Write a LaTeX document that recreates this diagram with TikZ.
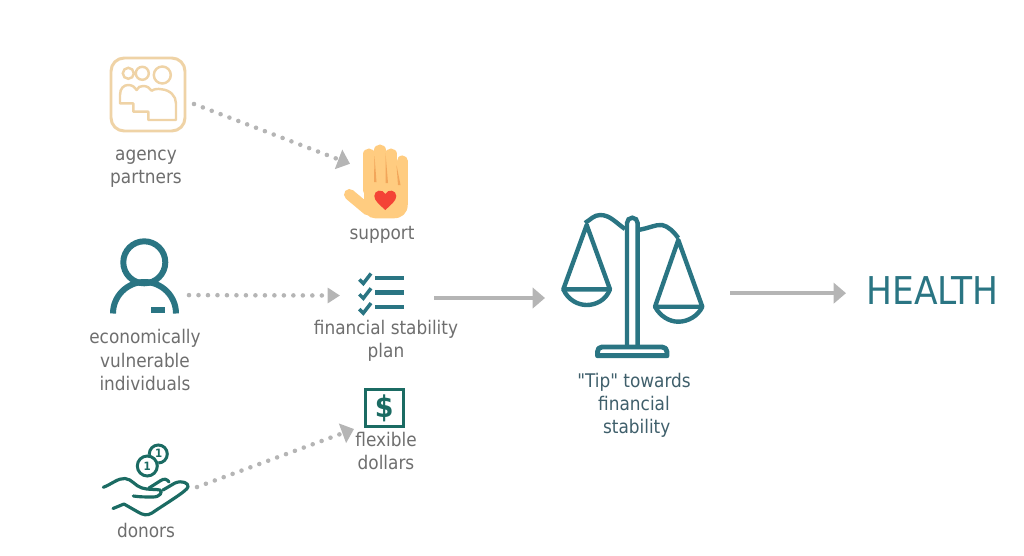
\documentclass[tikz,border=0pt]{standalone}
\usepackage{fontspec}
\setmainfont{DejaVu Sans Condensed}
\newfontfamily\tipfont{DejaVu Sans Condensed}
\usetikzlibrary{arrows.meta}
\definecolor{tealicon}{HTML}{2A7583}
\definecolor{greenicon}{HTML}{1B6B63}
\definecolor{sandicon}{HTML}{EFD3A6}
\definecolor{skinhand}{HTML}{FFCC80}
\definecolor{creasehand}{HTML}{F2A65A}
\definecolor{heartred}{HTML}{F44336}
\definecolor{arrowgray}{HTML}{B5B5B5}
\definecolor{labelgray}{HTML}{6E6E6E}
\definecolor{tipgray}{HTML}{3F5F6B}
\tikzset{
    iconbox/.style 2 args={inner sep=0pt, outer sep=0pt, minimum width=#1*0.02cm, minimum height=#2*0.02cm},
    lab/.style={text=labelgray, align=center, font=\fontsize{10.7pt}{13.2pt}\selectfont, inner sep=0pt},
    dotarrow/.style={arrowgray, line width=2.6pt, line cap=round, dash pattern=on 0pt off 5.4pt, -{Triangle[length=7pt, width=11.5pt]}},
    solidarrow/.style={arrowgray, line width=2.3pt, -{Triangle[length=7pt, width=11.5pt]}},
    coinnum/.style={text=greenicon, inner sep=0pt, font=\fontsize{6.5pt}{6.5pt}\bfseries\selectfont},
    finger/.style={skinhand, line width=6.3pt, line cap=round}
}
\begin{document}
\begin{tikzpicture}[x=0.02cm, y=-0.02cm]
    \useasboundingbox (0,0) rectangle (1024,555);
    % anchors of the icons
    \node[iconbox={94}{92}] (agency) at (147,94) {};
    \node[iconbox={52}{76}] (hand) at (376,182) {};
    \node[iconbox={90}{80}] (person) at (144,276) {};
    \node[iconbox={94}{44}] (plan) at (387,298) {};
    \node[iconbox={60}{41}] (dollar) at (384,408.5) {};
    \node[iconbox={100}{70}] (donor) at (147,480) {};
    \node[iconbox={185}{120}] (scale) at (637.5,298) {};
    % agency partners
    \draw[sandicon, line width=1.7pt, rounded corners=7.5pt] (111,58) rectangle (185,131);
    \draw[sandicon, line width=1.4pt] (128.3,73.3) circle (5.5) (142.3,73.3) circle (6.5) (162.3,75) circle (8.5);
    \draw[sandicon, line width=1.4pt, line join=round] (120,103.3) -- (120,95) .. controls (120,88) and (124,85) .. (128.3,85)
        .. controls (132,85) and (135,87) .. (136.7,90) .. controls (138,87) and (140,86) .. (143.3,86)
        .. controls (147,86) and (150,88) .. (151.7,90.7) .. controls (154,89) and (158,88.5) .. (161.7,89.3)
        .. controls (170,90) and (176,96) .. (176,103.3) -- (176,120) -- (148.3,120) -- (148.3,111.7) -- (133.3,111.7) -- (133.3,103.3) -- cycle;
    % support hand
    \draw[finger] (369,154) -- (369,190);
    \draw[finger] (380,150) -- (380,190);
    \draw[finger] (391,154) -- (391,190);
    \draw[finger] (402.2,161) -- (402.2,190);
    \fill[skinhand] (363.5,180) rectangle (407.7,205);
    \fill[skinhand] (363.5,205) -- (407.7,205) .. controls (407.7,213) and (402,218.3) .. (394,218.3) -- (375,218.3) .. controls (368,218.3) and (364,212) .. (363.5,205);
    \draw[finger] (349.5,194.5) -- (368,210);
    \fill[creasehand] (374.5,156) -- (376.5,182) -- (374,182) -- cycle;
    \fill[creasehand] (385.5,153) -- (388,183) -- (385.5,183) -- cycle;
    \fill[creasehand] (396.5,165) -- (400.5,185) -- (398,185) -- cycle;
    \fill[heartred] (385.3,210) .. controls (380,205) and (374.3,201) .. (374.3,196) .. controls (374.3,190) and (382.5,188.5) .. (385.3,194) .. controls (388,188.5) and (396.3,190) .. (396.3,196) .. controls (396.3,201) and (390.5,205) .. (385.3,210) -- cycle;
    % person
    \draw[tealicon, line width=3.4pt] (144.3,262.3) circle (21);
    \draw[tealicon, line width=3.4pt] (113,313.5) arc (180:360:31.5);
    \fill[tealicon] (151,306.7) rectangle (165,312.7);
    % plan list
    \foreach \y in {0,14.8,29.6} {
        \draw[tealicon, line width=2.3pt] (375,{277.7+\y}) -- (403.5,{277.7+\y});
        \draw[tealicon, line width=2pt] (359.3,{279.5+\y}) -- (363.3,{283.5+\y}) -- (371,{273.5+\y});
    }
    % dollar square
    \draw[greenicon, line width=1.8pt] (365.5,389.5) rectangle (403.5,426.5);
    \node[text=greenicon, inner sep=0pt, font=\fontsize{17pt}{17pt}\bfseries\selectfont] (dollarsign) at (384.3,408.3) {\$};
    % donor hand and coins
    \draw[greenicon, line width=1.7pt] (158.3,454) circle (9);
    \fill[white] (147.3,466) circle (11.5);
    \draw[greenicon, line width=1.7pt] (147.3,466) circle (10);
    \node[coinnum] (coinb) at (147.3,466) {1};
    \node[coinnum] (coinc) at (158.8,453.5) {1};
    \draw[greenicon, line width=1.8pt, line cap=round, line join=round] (103.3,487.3) .. controls (112,484) and (118,478) .. (125,478.5)
        .. controls (132,479) and (135,486) .. (142,488) .. controls (148,490) and (156,489) .. (160,490)
        .. controls (163,492) and (160,497) .. (153,497) .. controls (146,497) and (140,497) .. (133.3,496);
    \draw[greenicon, line width=1.8pt, line cap=round, line join=round] (149,488) -- (160,481) .. controls (164,478) and (167,479) .. (169,482);
    \draw[greenicon, line width=1.8pt, line cap=round, line join=round] (163,490) -- (175,483) .. controls (182,480) and (189,483) .. (188,487)
        .. controls (187,491) and (165,504) .. (152,513) .. controls (147,516) and (143,515) .. (138,512)
        -- (124,504) -- (113,508.5);
    % balance
    \draw[tealicon, line width=2.5pt] (627,346) -- (627,223) arc (180:360:5.3) -- (637.6,346);
    \draw[tealicon, line width=2.8pt, line join=round] (597.5,355.7) -- (597.5,352) .. controls (597.5,349) and (599,347) .. (602,347) -- (662,347) .. controls (665,347) and (667,349) .. (667,352) -- (667,355.7) -- cycle;
    \draw[tealicon, line width=2.5pt] (625,229) .. controls (615,222) and (610,215) .. (600,215) .. controls (594,215) and (590,220) .. (585,223);
    \draw[tealicon, line width=2.5pt] (638,230) .. controls (650,228) and (655,224.5) .. (662,225) .. controls (668,226) and (674,232) .. (678.3,238);
    \draw[tealicon, line width=2.5pt, line join=round] (563.3,289.3) -- (586.7,225) -- (610,289.3) -- cycle;
    \draw[tealicon, line width=2.5pt] (563.3,289.3) .. controls (568,300) and (578,305) .. (586.7,305) .. controls (596,305) and (606,300) .. (610,289.3);
    \draw[tealicon, line width=2.5pt, line join=round] (655,306.7) -- (678.3,240) -- (702.3,306.7) -- cycle;
    \draw[tealicon, line width=2.5pt] (655,306.7) .. controls (660,316) and (669,321.7) .. (678.3,321.7) .. controls (688,321.7) and (698,316) .. (702.3,306.7);
    % labels
    \node[lab] (agencylab) at (146,168.5) {agency\\partners};
    \node[lab] (supportlab) at (382,235) {support};
    \node[lab] (personlab) at (145,360) {economically\\vulnerable\\individuals};
    \node[lab] (planlab) at (386,341) {financial stability\\plan};
    \node[lab] (dollarlab) at (386,451) {flexible\\dollars};
    \node[lab] (donorlab) at (146,530) {donors};
    \node[lab, text=tipgray, font=\tipfont\fontsize{10.7pt}{13.2pt}\selectfont] (scalelab) at (634,405) {"Tip" towards\\financial\\\ stability};
    \node[text=tealicon, anchor=west, inner sep=0pt, font=\fontsize{21.8pt}{24pt}\selectfont] (health) at (866,291) {HEALTH};
    % arrows
    \draw[dotarrow] (agency.-12) -- (hand.145);
    \draw[dotarrow, -{Triangle[length=7pt, width=8.5pt]}] (person.-23.4) -- (plan.177.6);
    \draw[dotarrow] (donor.-8) -- (dollar.south west);
    \draw[solidarrow] (plan.east) -- (scale.west);
    \draw[solidarrow] (scale.3) -- ++(116,0);
\end{tikzpicture}
\end{document}
